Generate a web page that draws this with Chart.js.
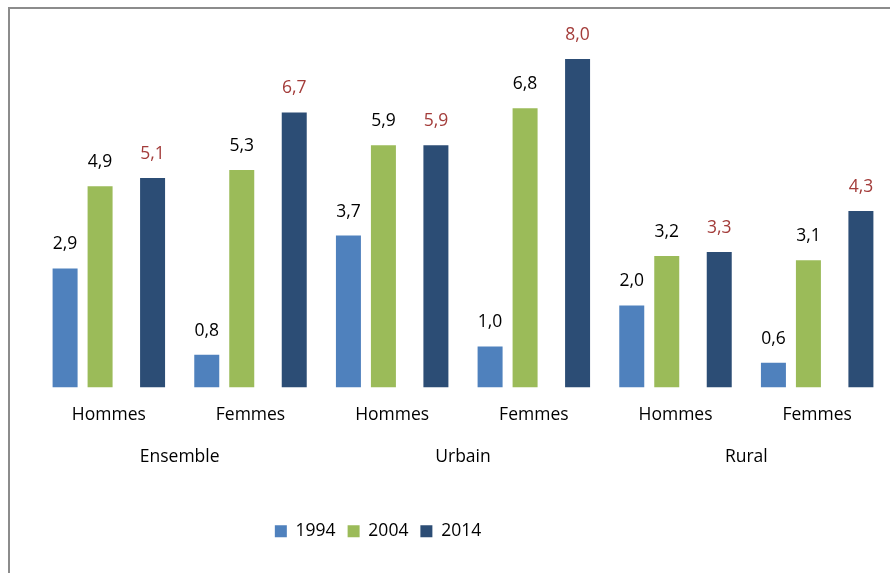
<!DOCTYPE html>
<html lang="fr">
<head>
    <meta charset="UTF-8">
    <title>Ensemble / Urbain / Rural</title>
    <script src="https://cdn.jsdelivr.net/npm/chart.js"></script>
    <style>
        body { margin: 0; background: #fff; }
        #chart { display: block; }
    </style>
</head>
<body>
<canvas id="chart" width="890" height="573"></canvas>

<script>
    // Données
    const sousGroupes = ["Hommes", "Femmes", "Hommes", "Femmes", "Hommes", "Femmes"];
    const milieux = ["Ensemble", "Urbain", "Rural"];
    const valeurs1994 = [2.9, 0.8, 3.7, 1.0, 2.0, 0.6];
    const valeurs2004 = [4.9, 5.3, 5.9, 6.8, 3.2, 3.1];
    const valeurs2014 = [5.1, 6.7, 5.9, 8.0, 3.3, 4.3];

    const police = "'Open Sans', 'Noto Sans', sans-serif";
    const taille = 17.5;

    // Cadre gris autour du graphique
    const cadre = {
        id: 'cadre',
        beforeDraw(chart) {
            const ctx = chart.ctx;
            ctx.save();
            ctx.strokeStyle = '#8c8c8c';
            ctx.lineWidth = 2;
            ctx.strokeRect(9, 8, 1000, 1000);
            ctx.restore();
        }
    };

    // Étiquettes de valeurs (format français)
    const etiquettes = {
        id: 'etiquettes',
        afterDatasetsDraw(chart) {
            const ctx = chart.ctx;
            ctx.save();
            ctx.font = taille + 'px ' + police;
            ctx.textAlign = 'center';
            ctx.textBaseline = 'middle';
            chart.data.datasets.forEach((ds, i) => {
                if (!ds.data.length) return;
                const meta = chart.getDatasetMeta(i);
                meta.data.forEach((bar, j) => {
                    ctx.fillStyle = ds.labelColor;
                    ctx.fillText(ds.data[j].toFixed(1).replace('.', ','), bar.x, bar.y - 24);
                });
            });
            ctx.restore();
        }
    };

    // Légende décalée vers la gauche comme dans l'original
    const decalageLegende = {
        id: 'decalageLegende',
        afterLayout(chart) {
            const lg = chart.legend;
            const w = lg.right - lg.left;
            lg.left = 378 - w / 2;
            lg.right = 378 + w / 2;
        }
    };

    const vide = (nom) => ({ label: nom, data: [], backgroundColor: 'transparent' });

    const config = {
        type: 'bar',
        data: {
            labels: sousGroupes,
            datasets: [
                { label: '1994', data: valeurs1994, backgroundColor: '#4f81bd', labelColor: '#000' },
                vide('v1'),
                { label: '2004', data: valeurs2004, backgroundColor: '#9bbb59', labelColor: '#000' },
                vide('v2'),
                vide('v3'),
                { label: '2014', data: valeurs2014, backgroundColor: '#2c4d75', labelColor: '#a33c3a' }
            ]
        },
        options: {
            responsive: false,
            animation: false,
            categoryPercentage: 0.741,
            barPercentage: 1.4286,
            layout: { padding: { left: 38, right: 2, top: 18, bottom: 23 } },
            scales: {
                y: {
                    display: false,
                    min: 0,
                    max: 9
                },
                x: {
                    grid: { display: false, drawTicks: false },
                    border: { display: false },
                    ticks: { color: '#000', padding: 17, font: { family: police, size: taille } },
                    afterFit(scale) { scale.height = 45; }
                },
                milieu: {
                    type: 'category',
                    position: 'bottom',
                    labels: milieux,
                    offset: true,
                    grid: { display: false, drawTicks: false },
                    border: { display: false },
                    ticks: { color: '#000', padding: 14, font: { family: police, size: taille } },
                    afterFit(scale) { scale.height = 78; }
                }
            },
            plugins: {
                legend: {
                    position: 'bottom',
                    labels: {
                        filter: (item) => !item.text.startsWith('v'),
                        boxWidth: 12,
                        boxHeight: 12,
                        padding: 12,
                        color: '#000',
                        font: { family: police, size: taille }
                    }
                },
                tooltip: { enabled: false }
            }
        },
        plugins: [cadre, etiquettes, decalageLegende]
    };

    const graphique = new Chart(document.getElementById('chart'), config);
</script>
</body>
</html>
